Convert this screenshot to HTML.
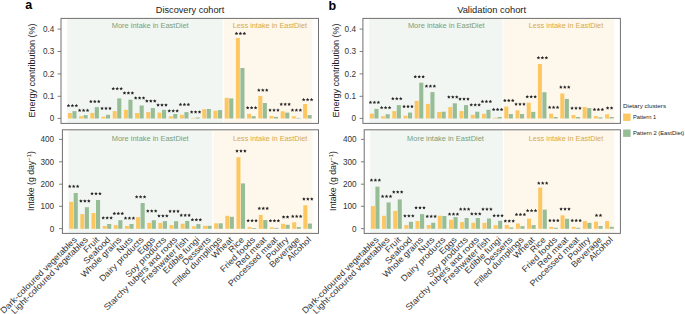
<!DOCTYPE html>
<html><head><meta charset="utf-8">
<style>
html,body{margin:0;padding:0;background:#fff;}
body{width:685px;height:314px;overflow:hidden;}
svg{display:block;}
text{font-family:"Liberation Sans", sans-serif;}
.rg{font-size:7.9px;}
.st{font-size:8.6px;text-anchor:middle;fill:#1e1e1e;dominant-baseline:central;}
.tk{font-size:8.2px;text-anchor:end;fill:#333;}
.xl{font-size:8.6px;text-anchor:end;fill:#333;}
.ttl{font-size:9.6px;text-anchor:middle;fill:#222;}
.yl{font-size:8.6px;text-anchor:middle;fill:#222;}
.pl{font-size:12.5px;font-weight:bold;fill:#000;}
.lg{font-size:6.2px;fill:#222;}
</style></head>
<body>
<svg width="685" height="314" viewBox="0 0 685 314">
<rect width="685" height="314" fill="#fff"/>
<text x="25.2" y="9.4" class="pl">a</text>
<text x="328.6" y="9.6" class="pl">b</text>
<text x="190" y="13" class="ttl" textLength="68.4" lengthAdjust="spacingAndGlyphs">Discovery cohort</text>
<text x="491.6" y="13" class="ttl" textLength="68.9" lengthAdjust="spacingAndGlyphs">Validation cohort</text>
<text class="yl" transform="translate(35,70.6) rotate(-90)" textLength="94" lengthAdjust="spacingAndGlyphs">Energy contribution (%)</text>
<text class="yl" transform="translate(338.9,70.6) rotate(-90)" textLength="94" lengthAdjust="spacingAndGlyphs">Energy contribution (%)</text>
<text class="yl" font-size="9.1px" transform="translate(34.1,181) rotate(-90)" textLength="60" lengthAdjust="spacingAndGlyphs">Intake (g day<tspan dy="-3.6" font-size="6px">−1</tspan><tspan dy="3.6">)</tspan></text>
<text class="yl" font-size="9.1px" transform="translate(336.4,181) rotate(-90)" textLength="60" lengthAdjust="spacingAndGlyphs">Intake (g day<tspan dy="-3.6" font-size="6px">−1</tspan><tspan dy="3.6">)</tspan></text>
<rect x="67.17" y="18.4" width="156.13" height="105" fill="#f2f6f2"/>
<rect x="223.3" y="18.4" width="89.04" height="105" fill="#fef7ec"/>
<rect x="222.8" y="18.4" width="1" height="105" fill="#fff"/>
<text x="111.8" y="27.8" class="rg" fill="#76a07b" textLength="76.8" lengthAdjust="spacingAndGlyphs">More intake in EastDiet</text>
<text x="232.7" y="27.8" class="rg" fill="#d7aa4b" textLength="74.4" lengthAdjust="spacingAndGlyphs">Less intake in EastDiet</text>
<rect x="67.9" y="113" width="4" height="5.5" fill="#fcc660"/>
<rect x="72.4" y="111.1" width="4.1" height="7.4" fill="#97bd97"/>
<path transform="translate(68.45,105.7)" d="M0.00 -1.85L0.54 -0.74L1.76 -0.57L0.87 0.28L1.09 1.50L0.00 0.92L-1.09 1.50L-0.87 0.28L-1.76 -0.57L-0.54 -0.74Z" fill="#262626"/>
<path transform="translate(72.4,105.7)" d="M0.00 -1.85L0.54 -0.74L1.76 -0.57L0.87 0.28L1.09 1.50L0.00 0.92L-1.09 1.50L-0.87 0.28L-1.76 -0.57L-0.54 -0.74Z" fill="#262626"/>
<path transform="translate(76.35,105.7)" d="M0.00 -1.85L0.54 -0.74L1.76 -0.57L0.87 0.28L1.09 1.50L0.00 0.92L-1.09 1.50L-0.87 0.28L-1.76 -0.57L-0.54 -0.74Z" fill="#262626"/>
<rect x="79.1" y="116.2" width="4" height="2.3" fill="#fcc660"/>
<rect x="83.6" y="115.1" width="4.1" height="3.4" fill="#97bd97"/>
<path transform="translate(79.65,110.4)" d="M0.00 -1.85L0.54 -0.74L1.76 -0.57L0.87 0.28L1.09 1.50L0.00 0.92L-1.09 1.50L-0.87 0.28L-1.76 -0.57L-0.54 -0.74Z" fill="#262626"/>
<path transform="translate(83.6,110.4)" d="M0.00 -1.85L0.54 -0.74L1.76 -0.57L0.87 0.28L1.09 1.50L0.00 0.92L-1.09 1.50L-0.87 0.28L-1.76 -0.57L-0.54 -0.74Z" fill="#262626"/>
<path transform="translate(87.55,110.4)" d="M0.00 -1.85L0.54 -0.74L1.76 -0.57L0.87 0.28L1.09 1.50L0.00 0.92L-1.09 1.50L-0.87 0.28L-1.76 -0.57L-0.54 -0.74Z" fill="#262626"/>
<rect x="90.3" y="112.9" width="4" height="5.6" fill="#fcc660"/>
<rect x="94.8" y="107.1" width="4.1" height="11.4" fill="#97bd97"/>
<path transform="translate(90.85,101.5)" d="M0.00 -1.85L0.54 -0.74L1.76 -0.57L0.87 0.28L1.09 1.50L0.00 0.92L-1.09 1.50L-0.87 0.28L-1.76 -0.57L-0.54 -0.74Z" fill="#262626"/>
<path transform="translate(94.8,101.5)" d="M0.00 -1.85L0.54 -0.74L1.76 -0.57L0.87 0.28L1.09 1.50L0.00 0.92L-1.09 1.50L-0.87 0.28L-1.76 -0.57L-0.54 -0.74Z" fill="#262626"/>
<path transform="translate(98.75,101.5)" d="M0.00 -1.85L0.54 -0.74L1.76 -0.57L0.87 0.28L1.09 1.50L0.00 0.92L-1.09 1.50L-0.87 0.28L-1.76 -0.57L-0.54 -0.74Z" fill="#262626"/>
<rect x="101.5" y="116.7" width="4" height="1.8" fill="#fcc660"/>
<rect x="106" y="114.8" width="4.1" height="3.7" fill="#97bd97"/>
<path transform="translate(102.05,108.4)" d="M0.00 -1.85L0.54 -0.74L1.76 -0.57L0.87 0.28L1.09 1.50L0.00 0.92L-1.09 1.50L-0.87 0.28L-1.76 -0.57L-0.54 -0.74Z" fill="#262626"/>
<path transform="translate(106,108.4)" d="M0.00 -1.85L0.54 -0.74L1.76 -0.57L0.87 0.28L1.09 1.50L0.00 0.92L-1.09 1.50L-0.87 0.28L-1.76 -0.57L-0.54 -0.74Z" fill="#262626"/>
<path transform="translate(109.95,108.4)" d="M0.00 -1.85L0.54 -0.74L1.76 -0.57L0.87 0.28L1.09 1.50L0.00 0.92L-1.09 1.50L-0.87 0.28L-1.76 -0.57L-0.54 -0.74Z" fill="#262626"/>
<rect x="112.7" y="111.1" width="4" height="7.4" fill="#fcc660"/>
<rect x="117.2" y="98.4" width="4.1" height="20.1" fill="#97bd97"/>
<path transform="translate(113.25,88.7)" d="M0.00 -1.85L0.54 -0.74L1.76 -0.57L0.87 0.28L1.09 1.50L0.00 0.92L-1.09 1.50L-0.87 0.28L-1.76 -0.57L-0.54 -0.74Z" fill="#262626"/>
<path transform="translate(117.2,88.7)" d="M0.00 -1.85L0.54 -0.74L1.76 -0.57L0.87 0.28L1.09 1.50L0.00 0.92L-1.09 1.50L-0.87 0.28L-1.76 -0.57L-0.54 -0.74Z" fill="#262626"/>
<path transform="translate(121.15,88.7)" d="M0.00 -1.85L0.54 -0.74L1.76 -0.57L0.87 0.28L1.09 1.50L0.00 0.92L-1.09 1.50L-0.87 0.28L-1.76 -0.57L-0.54 -0.74Z" fill="#262626"/>
<rect x="123.9" y="109.8" width="4" height="8.7" fill="#fcc660"/>
<rect x="128.4" y="99.7" width="4.1" height="18.8" fill="#97bd97"/>
<path transform="translate(124.45,93.1)" d="M0.00 -1.85L0.54 -0.74L1.76 -0.57L0.87 0.28L1.09 1.50L0.00 0.92L-1.09 1.50L-0.87 0.28L-1.76 -0.57L-0.54 -0.74Z" fill="#262626"/>
<path transform="translate(128.4,93.1)" d="M0.00 -1.85L0.54 -0.74L1.76 -0.57L0.87 0.28L1.09 1.50L0.00 0.92L-1.09 1.50L-0.87 0.28L-1.76 -0.57L-0.54 -0.74Z" fill="#262626"/>
<path transform="translate(132.35,93.1)" d="M0.00 -1.85L0.54 -0.74L1.76 -0.57L0.87 0.28L1.09 1.50L0.00 0.92L-1.09 1.50L-0.87 0.28L-1.76 -0.57L-0.54 -0.74Z" fill="#262626"/>
<rect x="135.1" y="113" width="4" height="5.5" fill="#fcc660"/>
<rect x="139.6" y="105.5" width="4.1" height="13" fill="#97bd97"/>
<path transform="translate(135.65,98)" d="M0.00 -1.85L0.54 -0.74L1.76 -0.57L0.87 0.28L1.09 1.50L0.00 0.92L-1.09 1.50L-0.87 0.28L-1.76 -0.57L-0.54 -0.74Z" fill="#262626"/>
<path transform="translate(139.6,98)" d="M0.00 -1.85L0.54 -0.74L1.76 -0.57L0.87 0.28L1.09 1.50L0.00 0.92L-1.09 1.50L-0.87 0.28L-1.76 -0.57L-0.54 -0.74Z" fill="#262626"/>
<path transform="translate(143.55,98)" d="M0.00 -1.85L0.54 -0.74L1.76 -0.57L0.87 0.28L1.09 1.50L0.00 0.92L-1.09 1.50L-0.87 0.28L-1.76 -0.57L-0.54 -0.74Z" fill="#262626"/>
<rect x="146.3" y="112" width="4" height="6.5" fill="#fcc660"/>
<rect x="150.8" y="108" width="4.1" height="10.5" fill="#97bd97"/>
<path transform="translate(146.85,101.1)" d="M0.00 -1.85L0.54 -0.74L1.76 -0.57L0.87 0.28L1.09 1.50L0.00 0.92L-1.09 1.50L-0.87 0.28L-1.76 -0.57L-0.54 -0.74Z" fill="#262626"/>
<path transform="translate(150.8,101.1)" d="M0.00 -1.85L0.54 -0.74L1.76 -0.57L0.87 0.28L1.09 1.50L0.00 0.92L-1.09 1.50L-0.87 0.28L-1.76 -0.57L-0.54 -0.74Z" fill="#262626"/>
<path transform="translate(154.75,101.1)" d="M0.00 -1.85L0.54 -0.74L1.76 -0.57L0.87 0.28L1.09 1.50L0.00 0.92L-1.09 1.50L-0.87 0.28L-1.76 -0.57L-0.54 -0.74Z" fill="#262626"/>
<rect x="157.5" y="112.6" width="4" height="5.9" fill="#fcc660"/>
<rect x="162" y="109.8" width="4.1" height="8.7" fill="#97bd97"/>
<path transform="translate(158.05,105.1)" d="M0.00 -1.85L0.54 -0.74L1.76 -0.57L0.87 0.28L1.09 1.50L0.00 0.92L-1.09 1.50L-0.87 0.28L-1.76 -0.57L-0.54 -0.74Z" fill="#262626"/>
<path transform="translate(162,105.1)" d="M0.00 -1.85L0.54 -0.74L1.76 -0.57L0.87 0.28L1.09 1.50L0.00 0.92L-1.09 1.50L-0.87 0.28L-1.76 -0.57L-0.54 -0.74Z" fill="#262626"/>
<path transform="translate(165.95,105.1)" d="M0.00 -1.85L0.54 -0.74L1.76 -0.57L0.87 0.28L1.09 1.50L0.00 0.92L-1.09 1.50L-0.87 0.28L-1.76 -0.57L-0.54 -0.74Z" fill="#262626"/>
<rect x="168.7" y="116.3" width="4" height="2.2" fill="#fcc660"/>
<rect x="173.2" y="114" width="4.1" height="4.5" fill="#97bd97"/>
<path transform="translate(169.25,110.9)" d="M0.00 -1.85L0.54 -0.74L1.76 -0.57L0.87 0.28L1.09 1.50L0.00 0.92L-1.09 1.50L-0.87 0.28L-1.76 -0.57L-0.54 -0.74Z" fill="#262626"/>
<path transform="translate(173.2,110.9)" d="M0.00 -1.85L0.54 -0.74L1.76 -0.57L0.87 0.28L1.09 1.50L0.00 0.92L-1.09 1.50L-0.87 0.28L-1.76 -0.57L-0.54 -0.74Z" fill="#262626"/>
<path transform="translate(177.15,110.9)" d="M0.00 -1.85L0.54 -0.74L1.76 -0.57L0.87 0.28L1.09 1.50L0.00 0.92L-1.09 1.50L-0.87 0.28L-1.76 -0.57L-0.54 -0.74Z" fill="#262626"/>
<rect x="179.9" y="114.8" width="4" height="3.7" fill="#fcc660"/>
<rect x="184.4" y="112.1" width="4.1" height="6.4" fill="#97bd97"/>
<path transform="translate(180.45,104.5)" d="M0.00 -1.85L0.54 -0.74L1.76 -0.57L0.87 0.28L1.09 1.50L0.00 0.92L-1.09 1.50L-0.87 0.28L-1.76 -0.57L-0.54 -0.74Z" fill="#262626"/>
<path transform="translate(184.4,104.5)" d="M0.00 -1.85L0.54 -0.74L1.76 -0.57L0.87 0.28L1.09 1.50L0.00 0.92L-1.09 1.50L-0.87 0.28L-1.76 -0.57L-0.54 -0.74Z" fill="#262626"/>
<path transform="translate(188.35,104.5)" d="M0.00 -1.85L0.54 -0.74L1.76 -0.57L0.87 0.28L1.09 1.50L0.00 0.92L-1.09 1.50L-0.87 0.28L-1.76 -0.57L-0.54 -0.74Z" fill="#262626"/>
<rect x="191.1" y="117.9" width="4" height="0.6" fill="#fcc660"/>
<rect x="195.6" y="117.5" width="4.1" height="1" fill="#97bd97"/>
<path transform="translate(191.65,112)" d="M0.00 -1.85L0.54 -0.74L1.76 -0.57L0.87 0.28L1.09 1.50L0.00 0.92L-1.09 1.50L-0.87 0.28L-1.76 -0.57L-0.54 -0.74Z" fill="#262626"/>
<path transform="translate(195.6,112)" d="M0.00 -1.85L0.54 -0.74L1.76 -0.57L0.87 0.28L1.09 1.50L0.00 0.92L-1.09 1.50L-0.87 0.28L-1.76 -0.57L-0.54 -0.74Z" fill="#262626"/>
<path transform="translate(199.55,112)" d="M0.00 -1.85L0.54 -0.74L1.76 -0.57L0.87 0.28L1.09 1.50L0.00 0.92L-1.09 1.50L-0.87 0.28L-1.76 -0.57L-0.54 -0.74Z" fill="#262626"/>
<rect x="202.3" y="109.2" width="4" height="9.3" fill="#fcc660"/>
<rect x="206.8" y="109" width="4.1" height="9.5" fill="#97bd97"/>
<rect x="213.5" y="110.7" width="4" height="7.8" fill="#fcc660"/>
<rect x="218" y="110.1" width="4.1" height="8.4" fill="#97bd97"/>
<rect x="224.7" y="97.8" width="4" height="20.7" fill="#fcc660"/>
<rect x="229.2" y="98.4" width="4.1" height="20.1" fill="#97bd97"/>
<rect x="235.9" y="38" width="4" height="80.5" fill="#fcc660"/>
<rect x="240.4" y="68" width="4.1" height="50.5" fill="#97bd97"/>
<path transform="translate(236.45,33.6)" d="M0.00 -1.85L0.54 -0.74L1.76 -0.57L0.87 0.28L1.09 1.50L0.00 0.92L-1.09 1.50L-0.87 0.28L-1.76 -0.57L-0.54 -0.74Z" fill="#262626"/>
<path transform="translate(240.4,33.6)" d="M0.00 -1.85L0.54 -0.74L1.76 -0.57L0.87 0.28L1.09 1.50L0.00 0.92L-1.09 1.50L-0.87 0.28L-1.76 -0.57L-0.54 -0.74Z" fill="#262626"/>
<path transform="translate(244.35,33.6)" d="M0.00 -1.85L0.54 -0.74L1.76 -0.57L0.87 0.28L1.09 1.50L0.00 0.92L-1.09 1.50L-0.87 0.28L-1.76 -0.57L-0.54 -0.74Z" fill="#262626"/>
<rect x="247.1" y="113.9" width="4" height="4.6" fill="#fcc660"/>
<rect x="251.6" y="116.1" width="4.1" height="2.4" fill="#97bd97"/>
<path transform="translate(247.65,107.8)" d="M0.00 -1.85L0.54 -0.74L1.76 -0.57L0.87 0.28L1.09 1.50L0.00 0.92L-1.09 1.50L-0.87 0.28L-1.76 -0.57L-0.54 -0.74Z" fill="#262626"/>
<path transform="translate(251.6,107.8)" d="M0.00 -1.85L0.54 -0.74L1.76 -0.57L0.87 0.28L1.09 1.50L0.00 0.92L-1.09 1.50L-0.87 0.28L-1.76 -0.57L-0.54 -0.74Z" fill="#262626"/>
<path transform="translate(255.55,107.8)" d="M0.00 -1.85L0.54 -0.74L1.76 -0.57L0.87 0.28L1.09 1.50L0.00 0.92L-1.09 1.50L-0.87 0.28L-1.76 -0.57L-0.54 -0.74Z" fill="#262626"/>
<rect x="258.3" y="95.9" width="4" height="22.6" fill="#fcc660"/>
<rect x="262.8" y="103" width="4.1" height="15.5" fill="#97bd97"/>
<path transform="translate(258.85,90.2)" d="M0.00 -1.85L0.54 -0.74L1.76 -0.57L0.87 0.28L1.09 1.50L0.00 0.92L-1.09 1.50L-0.87 0.28L-1.76 -0.57L-0.54 -0.74Z" fill="#262626"/>
<path transform="translate(262.8,90.2)" d="M0.00 -1.85L0.54 -0.74L1.76 -0.57L0.87 0.28L1.09 1.50L0.00 0.92L-1.09 1.50L-0.87 0.28L-1.76 -0.57L-0.54 -0.74Z" fill="#262626"/>
<path transform="translate(266.75,90.2)" d="M0.00 -1.85L0.54 -0.74L1.76 -0.57L0.87 0.28L1.09 1.50L0.00 0.92L-1.09 1.50L-0.87 0.28L-1.76 -0.57L-0.54 -0.74Z" fill="#262626"/>
<rect x="269.5" y="116" width="4" height="2.5" fill="#fcc660"/>
<rect x="274" y="116.9" width="4.1" height="1.6" fill="#97bd97"/>
<path transform="translate(270.05,110.2)" d="M0.00 -1.85L0.54 -0.74L1.76 -0.57L0.87 0.28L1.09 1.50L0.00 0.92L-1.09 1.50L-0.87 0.28L-1.76 -0.57L-0.54 -0.74Z" fill="#262626"/>
<path transform="translate(274,110.2)" d="M0.00 -1.85L0.54 -0.74L1.76 -0.57L0.87 0.28L1.09 1.50L0.00 0.92L-1.09 1.50L-0.87 0.28L-1.76 -0.57L-0.54 -0.74Z" fill="#262626"/>
<path transform="translate(277.95,110.2)" d="M0.00 -1.85L0.54 -0.74L1.76 -0.57L0.87 0.28L1.09 1.50L0.00 0.92L-1.09 1.50L-0.87 0.28L-1.76 -0.57L-0.54 -0.74Z" fill="#262626"/>
<rect x="280.7" y="111.3" width="4" height="7.2" fill="#fcc660"/>
<rect x="285.2" y="112.6" width="4.1" height="5.9" fill="#97bd97"/>
<path transform="translate(281.25,104.3)" d="M0.00 -1.85L0.54 -0.74L1.76 -0.57L0.87 0.28L1.09 1.50L0.00 0.92L-1.09 1.50L-0.87 0.28L-1.76 -0.57L-0.54 -0.74Z" fill="#262626"/>
<path transform="translate(285.2,104.3)" d="M0.00 -1.85L0.54 -0.74L1.76 -0.57L0.87 0.28L1.09 1.50L0.00 0.92L-1.09 1.50L-0.87 0.28L-1.76 -0.57L-0.54 -0.74Z" fill="#262626"/>
<path transform="translate(289.15,104.3)" d="M0.00 -1.85L0.54 -0.74L1.76 -0.57L0.87 0.28L1.09 1.50L0.00 0.92L-1.09 1.50L-0.87 0.28L-1.76 -0.57L-0.54 -0.74Z" fill="#262626"/>
<rect x="291.9" y="116.3" width="4" height="2.2" fill="#fcc660"/>
<rect x="296.4" y="117.9" width="4.1" height="0.6" fill="#97bd97"/>
<path transform="translate(292.45,110.2)" d="M0.00 -1.85L0.54 -0.74L1.76 -0.57L0.87 0.28L1.09 1.50L0.00 0.92L-1.09 1.50L-0.87 0.28L-1.76 -0.57L-0.54 -0.74Z" fill="#262626"/>
<path transform="translate(296.4,110.2)" d="M0.00 -1.85L0.54 -0.74L1.76 -0.57L0.87 0.28L1.09 1.50L0.00 0.92L-1.09 1.50L-0.87 0.28L-1.76 -0.57L-0.54 -0.74Z" fill="#262626"/>
<path transform="translate(300.35,110.2)" d="M0.00 -1.85L0.54 -0.74L1.76 -0.57L0.87 0.28L1.09 1.50L0.00 0.92L-1.09 1.50L-0.87 0.28L-1.76 -0.57L-0.54 -0.74Z" fill="#262626"/>
<rect x="303.1" y="104" width="4" height="14.5" fill="#fcc660"/>
<rect x="307.6" y="115.1" width="4.1" height="3.4" fill="#97bd97"/>
<path transform="translate(303.65,99.7)" d="M0.00 -1.85L0.54 -0.74L1.76 -0.57L0.87 0.28L1.09 1.50L0.00 0.92L-1.09 1.50L-0.87 0.28L-1.76 -0.57L-0.54 -0.74Z" fill="#262626"/>
<path transform="translate(307.6,99.7)" d="M0.00 -1.85L0.54 -0.74L1.76 -0.57L0.87 0.28L1.09 1.50L0.00 0.92L-1.09 1.50L-0.87 0.28L-1.76 -0.57L-0.54 -0.74Z" fill="#262626"/>
<path transform="translate(311.55,99.7)" d="M0.00 -1.85L0.54 -0.74L1.76 -0.57L0.87 0.28L1.09 1.50L0.00 0.92L-1.09 1.50L-0.87 0.28L-1.76 -0.57L-0.54 -0.74Z" fill="#262626"/>
<rect x="61" y="18.4" width="257.5" height="105" fill="none" stroke="#707070" stroke-width="1"/>
<line x1="57.7" y1="118.4" x2="61" y2="118.4" stroke="#707070" stroke-width="0.9"/>
<text x="54.3" y="121.3" class="tk">0</text>
<line x1="57.7" y1="96.3" x2="61" y2="96.3" stroke="#707070" stroke-width="0.9"/>
<text x="54.3" y="99.2" class="tk">0.1</text>
<line x1="57.7" y1="73.9" x2="61" y2="73.9" stroke="#707070" stroke-width="0.9"/>
<text x="54.3" y="76.8" class="tk">0.2</text>
<line x1="57.7" y1="51.5" x2="61" y2="51.5" stroke="#707070" stroke-width="0.9"/>
<text x="54.3" y="54.4" class="tk">0.3</text>
<line x1="57.7" y1="29.1" x2="61" y2="29.1" stroke="#707070" stroke-width="0.9"/>
<text x="54.3" y="32" class="tk">0.4</text>
<rect x="68.49" y="129.8" width="144.28" height="103.6" fill="#f2f6f2"/>
<rect x="212.78" y="129.8" width="99.79" height="103.6" fill="#fef7ec"/>
<rect x="212.28" y="129.8" width="1" height="103.6" fill="#fff"/>
<text x="111.8" y="141.3" class="rg" fill="#76a07b" textLength="76.8" lengthAdjust="spacingAndGlyphs">More intake in EastDiet</text>
<text x="232.9" y="141.3" class="rg" fill="#d7aa4b" textLength="74.4" lengthAdjust="spacingAndGlyphs">Less intake in EastDiet</text>
<rect x="69.2" y="201.8" width="4" height="27" fill="#fcc660"/>
<rect x="73.7" y="193" width="4.1" height="35.8" fill="#97bd97"/>
<path transform="translate(69.75,186.4)" d="M0.00 -1.85L0.54 -0.74L1.76 -0.57L0.87 0.28L1.09 1.50L0.00 0.92L-1.09 1.50L-0.87 0.28L-1.76 -0.57L-0.54 -0.74Z" fill="#262626"/>
<path transform="translate(73.7,186.4)" d="M0.00 -1.85L0.54 -0.74L1.76 -0.57L0.87 0.28L1.09 1.50L0.00 0.92L-1.09 1.50L-0.87 0.28L-1.76 -0.57L-0.54 -0.74Z" fill="#262626"/>
<path transform="translate(77.65,186.4)" d="M0.00 -1.85L0.54 -0.74L1.76 -0.57L0.87 0.28L1.09 1.50L0.00 0.92L-1.09 1.50L-0.87 0.28L-1.76 -0.57L-0.54 -0.74Z" fill="#262626"/>
<rect x="80.35" y="214.1" width="4" height="14.7" fill="#fcc660"/>
<rect x="84.85" y="207.2" width="4.1" height="21.6" fill="#97bd97"/>
<path transform="translate(80.9,201.1)" d="M0.00 -1.85L0.54 -0.74L1.76 -0.57L0.87 0.28L1.09 1.50L0.00 0.92L-1.09 1.50L-0.87 0.28L-1.76 -0.57L-0.54 -0.74Z" fill="#262626"/>
<path transform="translate(84.85,201.1)" d="M0.00 -1.85L0.54 -0.74L1.76 -0.57L0.87 0.28L1.09 1.50L0.00 0.92L-1.09 1.50L-0.87 0.28L-1.76 -0.57L-0.54 -0.74Z" fill="#262626"/>
<path transform="translate(88.8,201.1)" d="M0.00 -1.85L0.54 -0.74L1.76 -0.57L0.87 0.28L1.09 1.50L0.00 0.92L-1.09 1.50L-0.87 0.28L-1.76 -0.57L-0.54 -0.74Z" fill="#262626"/>
<rect x="91.5" y="213" width="4" height="15.8" fill="#fcc660"/>
<rect x="96" y="200" width="4.1" height="28.8" fill="#97bd97"/>
<path transform="translate(92.05,193.7)" d="M0.00 -1.85L0.54 -0.74L1.76 -0.57L0.87 0.28L1.09 1.50L0.00 0.92L-1.09 1.50L-0.87 0.28L-1.76 -0.57L-0.54 -0.74Z" fill="#262626"/>
<path transform="translate(96,193.7)" d="M0.00 -1.85L0.54 -0.74L1.76 -0.57L0.87 0.28L1.09 1.50L0.00 0.92L-1.09 1.50L-0.87 0.28L-1.76 -0.57L-0.54 -0.74Z" fill="#262626"/>
<path transform="translate(99.95,193.7)" d="M0.00 -1.85L0.54 -0.74L1.76 -0.57L0.87 0.28L1.09 1.50L0.00 0.92L-1.09 1.50L-0.87 0.28L-1.76 -0.57L-0.54 -0.74Z" fill="#262626"/>
<rect x="102.65" y="226" width="4" height="2.8" fill="#fcc660"/>
<rect x="107.15" y="224" width="4.1" height="4.8" fill="#97bd97"/>
<path transform="translate(103.2,217.9)" d="M0.00 -1.85L0.54 -0.74L1.76 -0.57L0.87 0.28L1.09 1.50L0.00 0.92L-1.09 1.50L-0.87 0.28L-1.76 -0.57L-0.54 -0.74Z" fill="#262626"/>
<path transform="translate(107.15,217.9)" d="M0.00 -1.85L0.54 -0.74L1.76 -0.57L0.87 0.28L1.09 1.50L0.00 0.92L-1.09 1.50L-0.87 0.28L-1.76 -0.57L-0.54 -0.74Z" fill="#262626"/>
<path transform="translate(111.1,217.9)" d="M0.00 -1.85L0.54 -0.74L1.76 -0.57L0.87 0.28L1.09 1.50L0.00 0.92L-1.09 1.50L-0.87 0.28L-1.76 -0.57L-0.54 -0.74Z" fill="#262626"/>
<rect x="113.8" y="225.1" width="4" height="3.7" fill="#fcc660"/>
<rect x="118.3" y="220.2" width="4.1" height="8.6" fill="#97bd97"/>
<path transform="translate(114.35,213.6)" d="M0.00 -1.85L0.54 -0.74L1.76 -0.57L0.87 0.28L1.09 1.50L0.00 0.92L-1.09 1.50L-0.87 0.28L-1.76 -0.57L-0.54 -0.74Z" fill="#262626"/>
<path transform="translate(118.3,213.6)" d="M0.00 -1.85L0.54 -0.74L1.76 -0.57L0.87 0.28L1.09 1.50L0.00 0.92L-1.09 1.50L-0.87 0.28L-1.76 -0.57L-0.54 -0.74Z" fill="#262626"/>
<path transform="translate(122.25,213.6)" d="M0.00 -1.85L0.54 -0.74L1.76 -0.57L0.87 0.28L1.09 1.50L0.00 0.92L-1.09 1.50L-0.87 0.28L-1.76 -0.57L-0.54 -0.74Z" fill="#262626"/>
<rect x="124.95" y="226" width="4" height="2.8" fill="#fcc660"/>
<rect x="129.45" y="224" width="4.1" height="4.8" fill="#97bd97"/>
<path transform="translate(125.5,218.2)" d="M0.00 -1.85L0.54 -0.74L1.76 -0.57L0.87 0.28L1.09 1.50L0.00 0.92L-1.09 1.50L-0.87 0.28L-1.76 -0.57L-0.54 -0.74Z" fill="#262626"/>
<path transform="translate(129.45,218.2)" d="M0.00 -1.85L0.54 -0.74L1.76 -0.57L0.87 0.28L1.09 1.50L0.00 0.92L-1.09 1.50L-0.87 0.28L-1.76 -0.57L-0.54 -0.74Z" fill="#262626"/>
<path transform="translate(133.4,218.2)" d="M0.00 -1.85L0.54 -0.74L1.76 -0.57L0.87 0.28L1.09 1.50L0.00 0.92L-1.09 1.50L-0.87 0.28L-1.76 -0.57L-0.54 -0.74Z" fill="#262626"/>
<rect x="136.1" y="217.1" width="4" height="11.7" fill="#fcc660"/>
<rect x="140.6" y="203" width="4.1" height="25.8" fill="#97bd97"/>
<path transform="translate(136.65,196.9)" d="M0.00 -1.85L0.54 -0.74L1.76 -0.57L0.87 0.28L1.09 1.50L0.00 0.92L-1.09 1.50L-0.87 0.28L-1.76 -0.57L-0.54 -0.74Z" fill="#262626"/>
<path transform="translate(140.6,196.9)" d="M0.00 -1.85L0.54 -0.74L1.76 -0.57L0.87 0.28L1.09 1.50L0.00 0.92L-1.09 1.50L-0.87 0.28L-1.76 -0.57L-0.54 -0.74Z" fill="#262626"/>
<path transform="translate(144.55,196.9)" d="M0.00 -1.85L0.54 -0.74L1.76 -0.57L0.87 0.28L1.09 1.50L0.00 0.92L-1.09 1.50L-0.87 0.28L-1.76 -0.57L-0.54 -0.74Z" fill="#262626"/>
<rect x="147.25" y="222.9" width="4" height="5.9" fill="#fcc660"/>
<rect x="151.75" y="220.2" width="4.1" height="8.6" fill="#97bd97"/>
<path transform="translate(147.8,211)" d="M0.00 -1.85L0.54 -0.74L1.76 -0.57L0.87 0.28L1.09 1.50L0.00 0.92L-1.09 1.50L-0.87 0.28L-1.76 -0.57L-0.54 -0.74Z" fill="#262626"/>
<path transform="translate(151.75,211)" d="M0.00 -1.85L0.54 -0.74L1.76 -0.57L0.87 0.28L1.09 1.50L0.00 0.92L-1.09 1.50L-0.87 0.28L-1.76 -0.57L-0.54 -0.74Z" fill="#262626"/>
<path transform="translate(155.7,211)" d="M0.00 -1.85L0.54 -0.74L1.76 -0.57L0.87 0.28L1.09 1.50L0.00 0.92L-1.09 1.50L-0.87 0.28L-1.76 -0.57L-0.54 -0.74Z" fill="#262626"/>
<rect x="158.4" y="222.9" width="4" height="5.9" fill="#fcc660"/>
<rect x="162.9" y="221.1" width="4.1" height="7.7" fill="#97bd97"/>
<path transform="translate(158.95,215.9)" d="M0.00 -1.85L0.54 -0.74L1.76 -0.57L0.87 0.28L1.09 1.50L0.00 0.92L-1.09 1.50L-0.87 0.28L-1.76 -0.57L-0.54 -0.74Z" fill="#262626"/>
<path transform="translate(162.9,215.9)" d="M0.00 -1.85L0.54 -0.74L1.76 -0.57L0.87 0.28L1.09 1.50L0.00 0.92L-1.09 1.50L-0.87 0.28L-1.76 -0.57L-0.54 -0.74Z" fill="#262626"/>
<path transform="translate(166.85,215.9)" d="M0.00 -1.85L0.54 -0.74L1.76 -0.57L0.87 0.28L1.09 1.50L0.00 0.92L-1.09 1.50L-0.87 0.28L-1.76 -0.57L-0.54 -0.74Z" fill="#262626"/>
<rect x="169.55" y="225.1" width="4" height="3.7" fill="#fcc660"/>
<rect x="174.05" y="221.2" width="4.1" height="7.6" fill="#97bd97"/>
<path transform="translate(170.1,211.3)" d="M0.00 -1.85L0.54 -0.74L1.76 -0.57L0.87 0.28L1.09 1.50L0.00 0.92L-1.09 1.50L-0.87 0.28L-1.76 -0.57L-0.54 -0.74Z" fill="#262626"/>
<path transform="translate(174.05,211.3)" d="M0.00 -1.85L0.54 -0.74L1.76 -0.57L0.87 0.28L1.09 1.50L0.00 0.92L-1.09 1.50L-0.87 0.28L-1.76 -0.57L-0.54 -0.74Z" fill="#262626"/>
<path transform="translate(178,211.3)" d="M0.00 -1.85L0.54 -0.74L1.76 -0.57L0.87 0.28L1.09 1.50L0.00 0.92L-1.09 1.50L-0.87 0.28L-1.76 -0.57L-0.54 -0.74Z" fill="#262626"/>
<rect x="180.7" y="223.7" width="4" height="5.1" fill="#fcc660"/>
<rect x="185.2" y="220.9" width="4.1" height="7.9" fill="#97bd97"/>
<path transform="translate(181.25,215.3)" d="M0.00 -1.85L0.54 -0.74L1.76 -0.57L0.87 0.28L1.09 1.50L0.00 0.92L-1.09 1.50L-0.87 0.28L-1.76 -0.57L-0.54 -0.74Z" fill="#262626"/>
<path transform="translate(185.2,215.3)" d="M0.00 -1.85L0.54 -0.74L1.76 -0.57L0.87 0.28L1.09 1.50L0.00 0.92L-1.09 1.50L-0.87 0.28L-1.76 -0.57L-0.54 -0.74Z" fill="#262626"/>
<path transform="translate(189.15,215.3)" d="M0.00 -1.85L0.54 -0.74L1.76 -0.57L0.87 0.28L1.09 1.50L0.00 0.92L-1.09 1.50L-0.87 0.28L-1.76 -0.57L-0.54 -0.74Z" fill="#262626"/>
<rect x="191.85" y="226.3" width="4" height="2.5" fill="#fcc660"/>
<rect x="196.35" y="224.1" width="4.1" height="4.7" fill="#97bd97"/>
<path transform="translate(192.4,219.8)" d="M0.00 -1.85L0.54 -0.74L1.76 -0.57L0.87 0.28L1.09 1.50L0.00 0.92L-1.09 1.50L-0.87 0.28L-1.76 -0.57L-0.54 -0.74Z" fill="#262626"/>
<path transform="translate(196.35,219.8)" d="M0.00 -1.85L0.54 -0.74L1.76 -0.57L0.87 0.28L1.09 1.50L0.00 0.92L-1.09 1.50L-0.87 0.28L-1.76 -0.57L-0.54 -0.74Z" fill="#262626"/>
<path transform="translate(200.3,219.8)" d="M0.00 -1.85L0.54 -0.74L1.76 -0.57L0.87 0.28L1.09 1.50L0.00 0.92L-1.09 1.50L-0.87 0.28L-1.76 -0.57L-0.54 -0.74Z" fill="#262626"/>
<rect x="203" y="225.8" width="4" height="3" fill="#fcc660"/>
<rect x="207.5" y="225.8" width="4.1" height="3" fill="#97bd97"/>
<rect x="214.15" y="223.3" width="4" height="5.5" fill="#fcc660"/>
<rect x="218.65" y="223.3" width="4.1" height="5.5" fill="#97bd97"/>
<rect x="225.3" y="215.8" width="4" height="13" fill="#fcc660"/>
<rect x="229.8" y="216.8" width="4.1" height="12" fill="#97bd97"/>
<rect x="236.45" y="157.2" width="4" height="71.6" fill="#fcc660"/>
<rect x="240.95" y="183.4" width="4.1" height="45.4" fill="#97bd97"/>
<path transform="translate(237,151)" d="M0.00 -1.85L0.54 -0.74L1.76 -0.57L0.87 0.28L1.09 1.50L0.00 0.92L-1.09 1.50L-0.87 0.28L-1.76 -0.57L-0.54 -0.74Z" fill="#262626"/>
<path transform="translate(240.95,151)" d="M0.00 -1.85L0.54 -0.74L1.76 -0.57L0.87 0.28L1.09 1.50L0.00 0.92L-1.09 1.50L-0.87 0.28L-1.76 -0.57L-0.54 -0.74Z" fill="#262626"/>
<path transform="translate(244.9,151)" d="M0.00 -1.85L0.54 -0.74L1.76 -0.57L0.87 0.28L1.09 1.50L0.00 0.92L-1.09 1.50L-0.87 0.28L-1.76 -0.57L-0.54 -0.74Z" fill="#262626"/>
<rect x="247.6" y="227.1" width="4" height="1.7" fill="#fcc660"/>
<rect x="252.1" y="228" width="4.1" height="0.8" fill="#97bd97"/>
<path transform="translate(248.15,220.7)" d="M0.00 -1.85L0.54 -0.74L1.76 -0.57L0.87 0.28L1.09 1.50L0.00 0.92L-1.09 1.50L-0.87 0.28L-1.76 -0.57L-0.54 -0.74Z" fill="#262626"/>
<path transform="translate(252.1,220.7)" d="M0.00 -1.85L0.54 -0.74L1.76 -0.57L0.87 0.28L1.09 1.50L0.00 0.92L-1.09 1.50L-0.87 0.28L-1.76 -0.57L-0.54 -0.74Z" fill="#262626"/>
<path transform="translate(256.05,220.7)" d="M0.00 -1.85L0.54 -0.74L1.76 -0.57L0.87 0.28L1.09 1.50L0.00 0.92L-1.09 1.50L-0.87 0.28L-1.76 -0.57L-0.54 -0.74Z" fill="#262626"/>
<rect x="258.75" y="215" width="4" height="13.8" fill="#fcc660"/>
<rect x="263.25" y="220" width="4.1" height="8.8" fill="#97bd97"/>
<path transform="translate(259.3,208.4)" d="M0.00 -1.85L0.54 -0.74L1.76 -0.57L0.87 0.28L1.09 1.50L0.00 0.92L-1.09 1.50L-0.87 0.28L-1.76 -0.57L-0.54 -0.74Z" fill="#262626"/>
<path transform="translate(263.25,208.4)" d="M0.00 -1.85L0.54 -0.74L1.76 -0.57L0.87 0.28L1.09 1.50L0.00 0.92L-1.09 1.50L-0.87 0.28L-1.76 -0.57L-0.54 -0.74Z" fill="#262626"/>
<path transform="translate(267.2,208.4)" d="M0.00 -1.85L0.54 -0.74L1.76 -0.57L0.87 0.28L1.09 1.50L0.00 0.92L-1.09 1.50L-0.87 0.28L-1.76 -0.57L-0.54 -0.74Z" fill="#262626"/>
<rect x="269.9" y="227.3" width="4" height="1.5" fill="#fcc660"/>
<rect x="274.4" y="227.9" width="4.1" height="0.9" fill="#97bd97"/>
<path transform="translate(270.45,220.8)" d="M0.00 -1.85L0.54 -0.74L1.76 -0.57L0.87 0.28L1.09 1.50L0.00 0.92L-1.09 1.50L-0.87 0.28L-1.76 -0.57L-0.54 -0.74Z" fill="#262626"/>
<path transform="translate(274.4,220.8)" d="M0.00 -1.85L0.54 -0.74L1.76 -0.57L0.87 0.28L1.09 1.50L0.00 0.92L-1.09 1.50L-0.87 0.28L-1.76 -0.57L-0.54 -0.74Z" fill="#262626"/>
<path transform="translate(278.35,220.8)" d="M0.00 -1.85L0.54 -0.74L1.76 -0.57L0.87 0.28L1.09 1.50L0.00 0.92L-1.09 1.50L-0.87 0.28L-1.76 -0.57L-0.54 -0.74Z" fill="#262626"/>
<rect x="281.05" y="223.8" width="4" height="5" fill="#fcc660"/>
<rect x="285.55" y="224.8" width="4.1" height="4" fill="#97bd97"/>
<path transform="translate(283.57,217.1)" d="M0.00 -1.85L0.54 -0.74L1.76 -0.57L0.87 0.28L1.09 1.50L0.00 0.92L-1.09 1.50L-0.87 0.28L-1.76 -0.57L-0.54 -0.74Z" fill="#262626"/>
<path transform="translate(287.53,217.1)" d="M0.00 -1.85L0.54 -0.74L1.76 -0.57L0.87 0.28L1.09 1.50L0.00 0.92L-1.09 1.50L-0.87 0.28L-1.76 -0.57L-0.54 -0.74Z" fill="#262626"/>
<rect x="292.2" y="222.3" width="4" height="6.5" fill="#fcc660"/>
<rect x="296.7" y="227" width="4.1" height="1.8" fill="#97bd97"/>
<path transform="translate(292.75,216.4)" d="M0.00 -1.85L0.54 -0.74L1.76 -0.57L0.87 0.28L1.09 1.50L0.00 0.92L-1.09 1.50L-0.87 0.28L-1.76 -0.57L-0.54 -0.74Z" fill="#262626"/>
<path transform="translate(296.7,216.4)" d="M0.00 -1.85L0.54 -0.74L1.76 -0.57L0.87 0.28L1.09 1.50L0.00 0.92L-1.09 1.50L-0.87 0.28L-1.76 -0.57L-0.54 -0.74Z" fill="#262626"/>
<path transform="translate(300.65,216.4)" d="M0.00 -1.85L0.54 -0.74L1.76 -0.57L0.87 0.28L1.09 1.50L0.00 0.92L-1.09 1.50L-0.87 0.28L-1.76 -0.57L-0.54 -0.74Z" fill="#262626"/>
<rect x="303.35" y="205.3" width="4" height="23.5" fill="#fcc660"/>
<rect x="307.85" y="223.6" width="4.1" height="5.2" fill="#97bd97"/>
<path transform="translate(303.9,199)" d="M0.00 -1.85L0.54 -0.74L1.76 -0.57L0.87 0.28L1.09 1.50L0.00 0.92L-1.09 1.50L-0.87 0.28L-1.76 -0.57L-0.54 -0.74Z" fill="#262626"/>
<path transform="translate(307.85,199)" d="M0.00 -1.85L0.54 -0.74L1.76 -0.57L0.87 0.28L1.09 1.50L0.00 0.92L-1.09 1.50L-0.87 0.28L-1.76 -0.57L-0.54 -0.74Z" fill="#262626"/>
<path transform="translate(311.8,199)" d="M0.00 -1.85L0.54 -0.74L1.76 -0.57L0.87 0.28L1.09 1.50L0.00 0.92L-1.09 1.50L-0.87 0.28L-1.76 -0.57L-0.54 -0.74Z" fill="#262626"/>
<rect x="62.4" y="129.8" width="256.1" height="103.6" fill="none" stroke="#707070" stroke-width="1"/>
<line x1="59.1" y1="228.6" x2="62.4" y2="228.6" stroke="#707070" stroke-width="0.9"/>
<text x="54.2" y="231.5" class="tk">0</text>
<line x1="59.1" y1="206.3" x2="62.4" y2="206.3" stroke="#707070" stroke-width="0.9"/>
<text x="54.2" y="209.2" class="tk">100</text>
<line x1="59.1" y1="184.2" x2="62.4" y2="184.2" stroke="#707070" stroke-width="0.9"/>
<text x="54.2" y="187.1" class="tk">200</text>
<line x1="59.1" y1="161.8" x2="62.4" y2="161.8" stroke="#707070" stroke-width="0.9"/>
<text x="54.2" y="164.7" class="tk">300</text>
<line x1="59.1" y1="139.4" x2="62.4" y2="139.4" stroke="#707070" stroke-width="0.9"/>
<text x="54.2" y="142.3" class="tk">400</text>
<text class="xl" transform="translate(75.1,238) rotate(-45) scale(1.065,1)" x="0" y="3.3">Dark-coloured vegetables</text>
<text class="xl" transform="translate(86.25,238) rotate(-45) scale(1.065,1)" x="0" y="3.3">Light-coloured vegetables</text>
<text class="xl" transform="translate(97.4,238) rotate(-45) scale(1.065,1)" x="0" y="3.3">Fruit</text>
<text class="xl" transform="translate(108.55,238) rotate(-45) scale(1.065,1)" x="0" y="3.3">Seafood</text>
<text class="xl" transform="translate(119.7,238) rotate(-45) scale(1.065,1)" x="0" y="3.3">Whole grains</text>
<text class="xl" transform="translate(130.85,238) rotate(-45) scale(1.065,1)" x="0" y="3.3">Nuts</text>
<text class="xl" transform="translate(142,238) rotate(-45) scale(1.065,1)" x="0" y="3.3">Dairy products</text>
<text class="xl" transform="translate(153.15,238) rotate(-45) scale(1.065,1)" x="0" y="3.3">Eggs</text>
<text class="xl" transform="translate(164.3,238) rotate(-45) scale(1.065,1)" x="0" y="3.3">Soy products</text>
<text class="xl" transform="translate(175.45,238) rotate(-45) scale(1.065,1)" x="0" y="3.3">Starchy tubers and roots</text>
<text class="xl" transform="translate(186.6,238) rotate(-45) scale(1.065,1)" x="0" y="3.3">Freshwater fish</text>
<text class="xl" transform="translate(197.75,238) rotate(-45) scale(1.065,1)" x="0" y="3.3">Edible fungi</text>
<text class="xl" transform="translate(208.9,238) rotate(-45) scale(1.065,1)" x="0" y="3.3">Desserts</text>
<text class="xl" transform="translate(220.05,238) rotate(-45) scale(1.065,1)" x="0" y="3.3">Filled dumplings</text>
<text class="xl" transform="translate(231.2,238) rotate(-45) scale(1.065,1)" x="0" y="3.3">Wheat</text>
<text class="xl" transform="translate(242.35,238) rotate(-45) scale(1.065,1)" x="0" y="3.3">Rice</text>
<text class="xl" transform="translate(253.5,238) rotate(-45) scale(1.065,1)" x="0" y="3.3">Fried foods</text>
<text class="xl" transform="translate(264.65,238) rotate(-45) scale(1.065,1)" x="0" y="3.3">Red meat</text>
<text class="xl" transform="translate(275.8,238) rotate(-45) scale(1.065,1)" x="0" y="3.3">Processed meat</text>
<text class="xl" transform="translate(286.95,238) rotate(-45) scale(1.065,1)" x="0" y="3.3">Poultry</text>
<text class="xl" transform="translate(298.1,238) rotate(-45) scale(1.065,1)" x="0" y="3.3">Beverage</text>
<text class="xl" transform="translate(309.25,238) rotate(-45) scale(1.065,1)" x="0" y="3.3">Alcohol</text>
<rect x="369.17" y="18.4" width="133.73" height="105" fill="#f2f6f2"/>
<rect x="502.9" y="18.4" width="111.44" height="105" fill="#fef7ec"/>
<rect x="502.4" y="18.4" width="1" height="105" fill="#fff"/>
<text x="407.9" y="27.8" class="rg" fill="#76a07b" textLength="76.8" lengthAdjust="spacingAndGlyphs">More intake in EastDiet</text>
<text x="528.8" y="27.8" class="rg" fill="#d7aa4b" textLength="74.4" lengthAdjust="spacingAndGlyphs">Less intake in EastDiet</text>
<rect x="369.9" y="113.6" width="4" height="4.9" fill="#fcc660"/>
<rect x="374.4" y="108.9" width="4.1" height="9.6" fill="#97bd97"/>
<path transform="translate(370.45,102.4)" d="M0.00 -1.85L0.54 -0.74L1.76 -0.57L0.87 0.28L1.09 1.50L0.00 0.92L-1.09 1.50L-0.87 0.28L-1.76 -0.57L-0.54 -0.74Z" fill="#262626"/>
<path transform="translate(374.4,102.4)" d="M0.00 -1.85L0.54 -0.74L1.76 -0.57L0.87 0.28L1.09 1.50L0.00 0.92L-1.09 1.50L-0.87 0.28L-1.76 -0.57L-0.54 -0.74Z" fill="#262626"/>
<path transform="translate(378.35,102.4)" d="M0.00 -1.85L0.54 -0.74L1.76 -0.57L0.87 0.28L1.09 1.50L0.00 0.92L-1.09 1.50L-0.87 0.28L-1.76 -0.57L-0.54 -0.74Z" fill="#262626"/>
<rect x="381.1" y="116.3" width="4" height="2.2" fill="#fcc660"/>
<rect x="385.6" y="114.2" width="4.1" height="4.3" fill="#97bd97"/>
<path transform="translate(381.65,107.7)" d="M0.00 -1.85L0.54 -0.74L1.76 -0.57L0.87 0.28L1.09 1.50L0.00 0.92L-1.09 1.50L-0.87 0.28L-1.76 -0.57L-0.54 -0.74Z" fill="#262626"/>
<path transform="translate(385.6,107.7)" d="M0.00 -1.85L0.54 -0.74L1.76 -0.57L0.87 0.28L1.09 1.50L0.00 0.92L-1.09 1.50L-0.87 0.28L-1.76 -0.57L-0.54 -0.74Z" fill="#262626"/>
<path transform="translate(389.55,107.7)" d="M0.00 -1.85L0.54 -0.74L1.76 -0.57L0.87 0.28L1.09 1.50L0.00 0.92L-1.09 1.50L-0.87 0.28L-1.76 -0.57L-0.54 -0.74Z" fill="#262626"/>
<rect x="392.3" y="111.1" width="4" height="7.4" fill="#fcc660"/>
<rect x="396.8" y="105.1" width="4.1" height="13.4" fill="#97bd97"/>
<path transform="translate(392.85,98.7)" d="M0.00 -1.85L0.54 -0.74L1.76 -0.57L0.87 0.28L1.09 1.50L0.00 0.92L-1.09 1.50L-0.87 0.28L-1.76 -0.57L-0.54 -0.74Z" fill="#262626"/>
<path transform="translate(396.8,98.7)" d="M0.00 -1.85L0.54 -0.74L1.76 -0.57L0.87 0.28L1.09 1.50L0.00 0.92L-1.09 1.50L-0.87 0.28L-1.76 -0.57L-0.54 -0.74Z" fill="#262626"/>
<path transform="translate(400.75,98.7)" d="M0.00 -1.85L0.54 -0.74L1.76 -0.57L0.87 0.28L1.09 1.50L0.00 0.92L-1.09 1.50L-0.87 0.28L-1.76 -0.57L-0.54 -0.74Z" fill="#262626"/>
<rect x="403.5" y="115.7" width="4" height="2.8" fill="#fcc660"/>
<rect x="408" y="112.6" width="4.1" height="5.9" fill="#97bd97"/>
<path transform="translate(404.05,106.5)" d="M0.00 -1.85L0.54 -0.74L1.76 -0.57L0.87 0.28L1.09 1.50L0.00 0.92L-1.09 1.50L-0.87 0.28L-1.76 -0.57L-0.54 -0.74Z" fill="#262626"/>
<path transform="translate(408,106.5)" d="M0.00 -1.85L0.54 -0.74L1.76 -0.57L0.87 0.28L1.09 1.50L0.00 0.92L-1.09 1.50L-0.87 0.28L-1.76 -0.57L-0.54 -0.74Z" fill="#262626"/>
<path transform="translate(411.95,106.5)" d="M0.00 -1.85L0.54 -0.74L1.76 -0.57L0.87 0.28L1.09 1.50L0.00 0.92L-1.09 1.50L-0.87 0.28L-1.76 -0.57L-0.54 -0.74Z" fill="#262626"/>
<rect x="414.7" y="100.9" width="4" height="17.6" fill="#fcc660"/>
<rect x="419.2" y="82.7" width="4.1" height="35.8" fill="#97bd97"/>
<path transform="translate(415.25,76.8)" d="M0.00 -1.85L0.54 -0.74L1.76 -0.57L0.87 0.28L1.09 1.50L0.00 0.92L-1.09 1.50L-0.87 0.28L-1.76 -0.57L-0.54 -0.74Z" fill="#262626"/>
<path transform="translate(419.2,76.8)" d="M0.00 -1.85L0.54 -0.74L1.76 -0.57L0.87 0.28L1.09 1.50L0.00 0.92L-1.09 1.50L-0.87 0.28L-1.76 -0.57L-0.54 -0.74Z" fill="#262626"/>
<path transform="translate(423.15,76.8)" d="M0.00 -1.85L0.54 -0.74L1.76 -0.57L0.87 0.28L1.09 1.50L0.00 0.92L-1.09 1.50L-0.87 0.28L-1.76 -0.57L-0.54 -0.74Z" fill="#262626"/>
<rect x="425.9" y="103.9" width="4" height="14.6" fill="#fcc660"/>
<rect x="430.4" y="92.1" width="4.1" height="26.4" fill="#97bd97"/>
<path transform="translate(426.45,86.2)" d="M0.00 -1.85L0.54 -0.74L1.76 -0.57L0.87 0.28L1.09 1.50L0.00 0.92L-1.09 1.50L-0.87 0.28L-1.76 -0.57L-0.54 -0.74Z" fill="#262626"/>
<path transform="translate(430.4,86.2)" d="M0.00 -1.85L0.54 -0.74L1.76 -0.57L0.87 0.28L1.09 1.50L0.00 0.92L-1.09 1.50L-0.87 0.28L-1.76 -0.57L-0.54 -0.74Z" fill="#262626"/>
<path transform="translate(434.35,86.2)" d="M0.00 -1.85L0.54 -0.74L1.76 -0.57L0.87 0.28L1.09 1.50L0.00 0.92L-1.09 1.50L-0.87 0.28L-1.76 -0.57L-0.54 -0.74Z" fill="#262626"/>
<rect x="437.1" y="112" width="4" height="6.5" fill="#fcc660"/>
<rect x="441.6" y="111.7" width="4.1" height="6.8" fill="#97bd97"/>
<rect x="448.3" y="107.1" width="4" height="11.4" fill="#fcc660"/>
<rect x="452.8" y="103.3" width="4.1" height="15.2" fill="#97bd97"/>
<path transform="translate(448.85,97)" d="M0.00 -1.85L0.54 -0.74L1.76 -0.57L0.87 0.28L1.09 1.50L0.00 0.92L-1.09 1.50L-0.87 0.28L-1.76 -0.57L-0.54 -0.74Z" fill="#262626"/>
<path transform="translate(452.8,97)" d="M0.00 -1.85L0.54 -0.74L1.76 -0.57L0.87 0.28L1.09 1.50L0.00 0.92L-1.09 1.50L-0.87 0.28L-1.76 -0.57L-0.54 -0.74Z" fill="#262626"/>
<path transform="translate(456.75,97)" d="M0.00 -1.85L0.54 -0.74L1.76 -0.57L0.87 0.28L1.09 1.50L0.00 0.92L-1.09 1.50L-0.87 0.28L-1.76 -0.57L-0.54 -0.74Z" fill="#262626"/>
<rect x="459.5" y="111.1" width="4" height="7.4" fill="#fcc660"/>
<rect x="464" y="105.1" width="4.1" height="13.4" fill="#97bd97"/>
<path transform="translate(460.05,99)" d="M0.00 -1.85L0.54 -0.74L1.76 -0.57L0.87 0.28L1.09 1.50L0.00 0.92L-1.09 1.50L-0.87 0.28L-1.76 -0.57L-0.54 -0.74Z" fill="#262626"/>
<path transform="translate(464,99)" d="M0.00 -1.85L0.54 -0.74L1.76 -0.57L0.87 0.28L1.09 1.50L0.00 0.92L-1.09 1.50L-0.87 0.28L-1.76 -0.57L-0.54 -0.74Z" fill="#262626"/>
<path transform="translate(467.95,99)" d="M0.00 -1.85L0.54 -0.74L1.76 -0.57L0.87 0.28L1.09 1.50L0.00 0.92L-1.09 1.50L-0.87 0.28L-1.76 -0.57L-0.54 -0.74Z" fill="#262626"/>
<rect x="470.7" y="114.8" width="4" height="3.7" fill="#fcc660"/>
<rect x="475.2" y="111.7" width="4.1" height="6.8" fill="#97bd97"/>
<path transform="translate(471.25,104.9)" d="M0.00 -1.85L0.54 -0.74L1.76 -0.57L0.87 0.28L1.09 1.50L0.00 0.92L-1.09 1.50L-0.87 0.28L-1.76 -0.57L-0.54 -0.74Z" fill="#262626"/>
<path transform="translate(475.2,104.9)" d="M0.00 -1.85L0.54 -0.74L1.76 -0.57L0.87 0.28L1.09 1.50L0.00 0.92L-1.09 1.50L-0.87 0.28L-1.76 -0.57L-0.54 -0.74Z" fill="#262626"/>
<path transform="translate(479.15,104.9)" d="M0.00 -1.85L0.54 -0.74L1.76 -0.57L0.87 0.28L1.09 1.50L0.00 0.92L-1.09 1.50L-0.87 0.28L-1.76 -0.57L-0.54 -0.74Z" fill="#262626"/>
<rect x="481.9" y="113.8" width="4" height="4.7" fill="#fcc660"/>
<rect x="486.4" y="109.8" width="4.1" height="8.7" fill="#97bd97"/>
<path transform="translate(482.45,101.5)" d="M0.00 -1.85L0.54 -0.74L1.76 -0.57L0.87 0.28L1.09 1.50L0.00 0.92L-1.09 1.50L-0.87 0.28L-1.76 -0.57L-0.54 -0.74Z" fill="#262626"/>
<path transform="translate(486.4,101.5)" d="M0.00 -1.85L0.54 -0.74L1.76 -0.57L0.87 0.28L1.09 1.50L0.00 0.92L-1.09 1.50L-0.87 0.28L-1.76 -0.57L-0.54 -0.74Z" fill="#262626"/>
<path transform="translate(490.35,101.5)" d="M0.00 -1.85L0.54 -0.74L1.76 -0.57L0.87 0.28L1.09 1.50L0.00 0.92L-1.09 1.50L-0.87 0.28L-1.76 -0.57L-0.54 -0.74Z" fill="#262626"/>
<rect x="493.1" y="117.7" width="4" height="0.8" fill="#fcc660"/>
<rect x="497.6" y="117" width="4.1" height="1.5" fill="#97bd97"/>
<path transform="translate(493.65,109.6)" d="M0.00 -1.85L0.54 -0.74L1.76 -0.57L0.87 0.28L1.09 1.50L0.00 0.92L-1.09 1.50L-0.87 0.28L-1.76 -0.57L-0.54 -0.74Z" fill="#262626"/>
<path transform="translate(497.6,109.6)" d="M0.00 -1.85L0.54 -0.74L1.76 -0.57L0.87 0.28L1.09 1.50L0.00 0.92L-1.09 1.50L-0.87 0.28L-1.76 -0.57L-0.54 -0.74Z" fill="#262626"/>
<path transform="translate(501.55,109.6)" d="M0.00 -1.85L0.54 -0.74L1.76 -0.57L0.87 0.28L1.09 1.50L0.00 0.92L-1.09 1.50L-0.87 0.28L-1.76 -0.57L-0.54 -0.74Z" fill="#262626"/>
<rect x="504.3" y="106.6" width="4" height="11.9" fill="#fcc660"/>
<rect x="508.8" y="114" width="4.1" height="4.5" fill="#97bd97"/>
<path transform="translate(504.85,100.6)" d="M0.00 -1.85L0.54 -0.74L1.76 -0.57L0.87 0.28L1.09 1.50L0.00 0.92L-1.09 1.50L-0.87 0.28L-1.76 -0.57L-0.54 -0.74Z" fill="#262626"/>
<path transform="translate(508.8,100.6)" d="M0.00 -1.85L0.54 -0.74L1.76 -0.57L0.87 0.28L1.09 1.50L0.00 0.92L-1.09 1.50L-0.87 0.28L-1.76 -0.57L-0.54 -0.74Z" fill="#262626"/>
<path transform="translate(512.75,100.6)" d="M0.00 -1.85L0.54 -0.74L1.76 -0.57L0.87 0.28L1.09 1.50L0.00 0.92L-1.09 1.50L-0.87 0.28L-1.76 -0.57L-0.54 -0.74Z" fill="#262626"/>
<rect x="515.5" y="110.4" width="4" height="8.1" fill="#fcc660"/>
<rect x="520" y="114" width="4.1" height="4.5" fill="#97bd97"/>
<path transform="translate(516.05,104.2)" d="M0.00 -1.85L0.54 -0.74L1.76 -0.57L0.87 0.28L1.09 1.50L0.00 0.92L-1.09 1.50L-0.87 0.28L-1.76 -0.57L-0.54 -0.74Z" fill="#262626"/>
<path transform="translate(520,104.2)" d="M0.00 -1.85L0.54 -0.74L1.76 -0.57L0.87 0.28L1.09 1.50L0.00 0.92L-1.09 1.50L-0.87 0.28L-1.76 -0.57L-0.54 -0.74Z" fill="#262626"/>
<path transform="translate(523.95,104.2)" d="M0.00 -1.85L0.54 -0.74L1.76 -0.57L0.87 0.28L1.09 1.50L0.00 0.92L-1.09 1.50L-0.87 0.28L-1.76 -0.57L-0.54 -0.74Z" fill="#262626"/>
<rect x="526.7" y="102.7" width="4" height="15.8" fill="#fcc660"/>
<rect x="531.2" y="111.9" width="4.1" height="6.6" fill="#97bd97"/>
<path transform="translate(527.25,96.8)" d="M0.00 -1.85L0.54 -0.74L1.76 -0.57L0.87 0.28L1.09 1.50L0.00 0.92L-1.09 1.50L-0.87 0.28L-1.76 -0.57L-0.54 -0.74Z" fill="#262626"/>
<path transform="translate(531.2,96.8)" d="M0.00 -1.85L0.54 -0.74L1.76 -0.57L0.87 0.28L1.09 1.50L0.00 0.92L-1.09 1.50L-0.87 0.28L-1.76 -0.57L-0.54 -0.74Z" fill="#262626"/>
<path transform="translate(535.15,96.8)" d="M0.00 -1.85L0.54 -0.74L1.76 -0.57L0.87 0.28L1.09 1.50L0.00 0.92L-1.09 1.50L-0.87 0.28L-1.76 -0.57L-0.54 -0.74Z" fill="#262626"/>
<rect x="537.9" y="64" width="4" height="54.5" fill="#fcc660"/>
<rect x="542.4" y="92.2" width="4.1" height="26.3" fill="#97bd97"/>
<path transform="translate(538.45,57.8)" d="M0.00 -1.85L0.54 -0.74L1.76 -0.57L0.87 0.28L1.09 1.50L0.00 0.92L-1.09 1.50L-0.87 0.28L-1.76 -0.57L-0.54 -0.74Z" fill="#262626"/>
<path transform="translate(542.4,57.8)" d="M0.00 -1.85L0.54 -0.74L1.76 -0.57L0.87 0.28L1.09 1.50L0.00 0.92L-1.09 1.50L-0.87 0.28L-1.76 -0.57L-0.54 -0.74Z" fill="#262626"/>
<path transform="translate(546.35,57.8)" d="M0.00 -1.85L0.54 -0.74L1.76 -0.57L0.87 0.28L1.09 1.50L0.00 0.92L-1.09 1.50L-0.87 0.28L-1.76 -0.57L-0.54 -0.74Z" fill="#262626"/>
<rect x="549.1" y="113.7" width="4" height="4.8" fill="#fcc660"/>
<rect x="553.6" y="117" width="4.1" height="1.5" fill="#97bd97"/>
<path transform="translate(549.65,107.4)" d="M0.00 -1.85L0.54 -0.74L1.76 -0.57L0.87 0.28L1.09 1.50L0.00 0.92L-1.09 1.50L-0.87 0.28L-1.76 -0.57L-0.54 -0.74Z" fill="#262626"/>
<path transform="translate(553.6,107.4)" d="M0.00 -1.85L0.54 -0.74L1.76 -0.57L0.87 0.28L1.09 1.50L0.00 0.92L-1.09 1.50L-0.87 0.28L-1.76 -0.57L-0.54 -0.74Z" fill="#262626"/>
<path transform="translate(557.55,107.4)" d="M0.00 -1.85L0.54 -0.74L1.76 -0.57L0.87 0.28L1.09 1.50L0.00 0.92L-1.09 1.50L-0.87 0.28L-1.76 -0.57L-0.54 -0.74Z" fill="#262626"/>
<rect x="560.3" y="93.5" width="4" height="25" fill="#fcc660"/>
<rect x="564.8" y="98.9" width="4.1" height="19.6" fill="#97bd97"/>
<path transform="translate(560.85,87.2)" d="M0.00 -1.85L0.54 -0.74L1.76 -0.57L0.87 0.28L1.09 1.50L0.00 0.92L-1.09 1.50L-0.87 0.28L-1.76 -0.57L-0.54 -0.74Z" fill="#262626"/>
<path transform="translate(564.8,87.2)" d="M0.00 -1.85L0.54 -0.74L1.76 -0.57L0.87 0.28L1.09 1.50L0.00 0.92L-1.09 1.50L-0.87 0.28L-1.76 -0.57L-0.54 -0.74Z" fill="#262626"/>
<path transform="translate(568.75,87.2)" d="M0.00 -1.85L0.54 -0.74L1.76 -0.57L0.87 0.28L1.09 1.50L0.00 0.92L-1.09 1.50L-0.87 0.28L-1.76 -0.57L-0.54 -0.74Z" fill="#262626"/>
<rect x="571.5" y="115.1" width="4" height="3.4" fill="#fcc660"/>
<rect x="576" y="117" width="4.1" height="1.5" fill="#97bd97"/>
<path transform="translate(572.05,108.2)" d="M0.00 -1.85L0.54 -0.74L1.76 -0.57L0.87 0.28L1.09 1.50L0.00 0.92L-1.09 1.50L-0.87 0.28L-1.76 -0.57L-0.54 -0.74Z" fill="#262626"/>
<path transform="translate(576,108.2)" d="M0.00 -1.85L0.54 -0.74L1.76 -0.57L0.87 0.28L1.09 1.50L0.00 0.92L-1.09 1.50L-0.87 0.28L-1.76 -0.57L-0.54 -0.74Z" fill="#262626"/>
<path transform="translate(579.95,108.2)" d="M0.00 -1.85L0.54 -0.74L1.76 -0.57L0.87 0.28L1.09 1.50L0.00 0.92L-1.09 1.50L-0.87 0.28L-1.76 -0.57L-0.54 -0.74Z" fill="#262626"/>
<rect x="582.7" y="107.1" width="4" height="11.4" fill="#fcc660"/>
<rect x="587.2" y="108.1" width="4.1" height="10.4" fill="#97bd97"/>
<rect x="593.9" y="116.1" width="4" height="2.4" fill="#fcc660"/>
<rect x="598.4" y="117.3" width="4.1" height="1.2" fill="#97bd97"/>
<path transform="translate(594.45,109.5)" d="M0.00 -1.85L0.54 -0.74L1.76 -0.57L0.87 0.28L1.09 1.50L0.00 0.92L-1.09 1.50L-0.87 0.28L-1.76 -0.57L-0.54 -0.74Z" fill="#262626"/>
<path transform="translate(598.4,109.5)" d="M0.00 -1.85L0.54 -0.74L1.76 -0.57L0.87 0.28L1.09 1.50L0.00 0.92L-1.09 1.50L-0.87 0.28L-1.76 -0.57L-0.54 -0.74Z" fill="#262626"/>
<path transform="translate(602.35,109.5)" d="M0.00 -1.85L0.54 -0.74L1.76 -0.57L0.87 0.28L1.09 1.50L0.00 0.92L-1.09 1.50L-0.87 0.28L-1.76 -0.57L-0.54 -0.74Z" fill="#262626"/>
<rect x="605.1" y="114.3" width="4" height="4.2" fill="#fcc660"/>
<rect x="609.6" y="117" width="4.1" height="1.5" fill="#97bd97"/>
<path transform="translate(607.62,108)" d="M0.00 -1.85L0.54 -0.74L1.76 -0.57L0.87 0.28L1.09 1.50L0.00 0.92L-1.09 1.50L-0.87 0.28L-1.76 -0.57L-0.54 -0.74Z" fill="#262626"/>
<path transform="translate(611.57,108)" d="M0.00 -1.85L0.54 -0.74L1.76 -0.57L0.87 0.28L1.09 1.50L0.00 0.92L-1.09 1.50L-0.87 0.28L-1.76 -0.57L-0.54 -0.74Z" fill="#262626"/>
<rect x="362.9" y="18.4" width="257.5" height="105" fill="none" stroke="#707070" stroke-width="1"/>
<line x1="359.6" y1="118.4" x2="362.9" y2="118.4" stroke="#707070" stroke-width="0.9"/>
<text x="356" y="121.3" class="tk">0</text>
<line x1="359.6" y1="96.3" x2="362.9" y2="96.3" stroke="#707070" stroke-width="0.9"/>
<text x="356" y="99.2" class="tk">0.1</text>
<line x1="359.6" y1="73.9" x2="362.9" y2="73.9" stroke="#707070" stroke-width="0.9"/>
<text x="356" y="76.8" class="tk">0.2</text>
<line x1="359.6" y1="51.5" x2="362.9" y2="51.5" stroke="#707070" stroke-width="0.9"/>
<text x="356" y="54.4" class="tk">0.3</text>
<line x1="359.6" y1="29.1" x2="362.9" y2="29.1" stroke="#707070" stroke-width="0.9"/>
<text x="356" y="32" class="tk">0.4</text>
<rect x="370.19" y="129.8" width="133.19" height="103.6" fill="#f2f6f2"/>
<rect x="503.38" y="129.8" width="110.99" height="103.6" fill="#fef7ec"/>
<rect x="502.88" y="129.8" width="1" height="103.6" fill="#fff"/>
<text x="407.1" y="141.3" class="rg" fill="#76a07b" textLength="76.8" lengthAdjust="spacingAndGlyphs">More intake in EastDiet</text>
<text x="528.8" y="141.3" class="rg" fill="#d7aa4b" textLength="74.4" lengthAdjust="spacingAndGlyphs">Less intake in EastDiet</text>
<rect x="370.9" y="206.1" width="4" height="22.7" fill="#fcc660"/>
<rect x="375.4" y="186.6" width="4.1" height="42.2" fill="#97bd97"/>
<path transform="translate(371.45,180.2)" d="M0.00 -1.85L0.54 -0.74L1.76 -0.57L0.87 0.28L1.09 1.50L0.00 0.92L-1.09 1.50L-0.87 0.28L-1.76 -0.57L-0.54 -0.74Z" fill="#262626"/>
<path transform="translate(375.4,180.2)" d="M0.00 -1.85L0.54 -0.74L1.76 -0.57L0.87 0.28L1.09 1.50L0.00 0.92L-1.09 1.50L-0.87 0.28L-1.76 -0.57L-0.54 -0.74Z" fill="#262626"/>
<path transform="translate(379.35,180.2)" d="M0.00 -1.85L0.54 -0.74L1.76 -0.57L0.87 0.28L1.09 1.50L0.00 0.92L-1.09 1.50L-0.87 0.28L-1.76 -0.57L-0.54 -0.74Z" fill="#262626"/>
<rect x="382.06" y="215.8" width="4" height="13" fill="#fcc660"/>
<rect x="386.56" y="202.4" width="4.1" height="26.4" fill="#97bd97"/>
<path transform="translate(382.61,196.4)" d="M0.00 -1.85L0.54 -0.74L1.76 -0.57L0.87 0.28L1.09 1.50L0.00 0.92L-1.09 1.50L-0.87 0.28L-1.76 -0.57L-0.54 -0.74Z" fill="#262626"/>
<path transform="translate(386.56,196.4)" d="M0.00 -1.85L0.54 -0.74L1.76 -0.57L0.87 0.28L1.09 1.50L0.00 0.92L-1.09 1.50L-0.87 0.28L-1.76 -0.57L-0.54 -0.74Z" fill="#262626"/>
<path transform="translate(390.5,196.4)" d="M0.00 -1.85L0.54 -0.74L1.76 -0.57L0.87 0.28L1.09 1.50L0.00 0.92L-1.09 1.50L-0.87 0.28L-1.76 -0.57L-0.54 -0.74Z" fill="#262626"/>
<rect x="393.21" y="210.9" width="4" height="17.9" fill="#fcc660"/>
<rect x="397.71" y="199.4" width="4.1" height="29.4" fill="#97bd97"/>
<path transform="translate(393.76,192)" d="M0.00 -1.85L0.54 -0.74L1.76 -0.57L0.87 0.28L1.09 1.50L0.00 0.92L-1.09 1.50L-0.87 0.28L-1.76 -0.57L-0.54 -0.74Z" fill="#262626"/>
<path transform="translate(397.71,192)" d="M0.00 -1.85L0.54 -0.74L1.76 -0.57L0.87 0.28L1.09 1.50L0.00 0.92L-1.09 1.50L-0.87 0.28L-1.76 -0.57L-0.54 -0.74Z" fill="#262626"/>
<path transform="translate(401.66,192)" d="M0.00 -1.85L0.54 -0.74L1.76 -0.57L0.87 0.28L1.09 1.50L0.00 0.92L-1.09 1.50L-0.87 0.28L-1.76 -0.57L-0.54 -0.74Z" fill="#262626"/>
<rect x="404.37" y="225" width="4" height="3.8" fill="#fcc660"/>
<rect x="408.87" y="221.8" width="4.1" height="7" fill="#97bd97"/>
<path transform="translate(404.92,215.9)" d="M0.00 -1.85L0.54 -0.74L1.76 -0.57L0.87 0.28L1.09 1.50L0.00 0.92L-1.09 1.50L-0.87 0.28L-1.76 -0.57L-0.54 -0.74Z" fill="#262626"/>
<path transform="translate(408.87,215.9)" d="M0.00 -1.85L0.54 -0.74L1.76 -0.57L0.87 0.28L1.09 1.50L0.00 0.92L-1.09 1.50L-0.87 0.28L-1.76 -0.57L-0.54 -0.74Z" fill="#262626"/>
<path transform="translate(412.81,215.9)" d="M0.00 -1.85L0.54 -0.74L1.76 -0.57L0.87 0.28L1.09 1.50L0.00 0.92L-1.09 1.50L-0.87 0.28L-1.76 -0.57L-0.54 -0.74Z" fill="#262626"/>
<rect x="415.52" y="221" width="4" height="7.8" fill="#fcc660"/>
<rect x="420.02" y="214.1" width="4.1" height="14.7" fill="#97bd97"/>
<path transform="translate(416.07,207.8)" d="M0.00 -1.85L0.54 -0.74L1.76 -0.57L0.87 0.28L1.09 1.50L0.00 0.92L-1.09 1.50L-0.87 0.28L-1.76 -0.57L-0.54 -0.74Z" fill="#262626"/>
<path transform="translate(420.02,207.8)" d="M0.00 -1.85L0.54 -0.74L1.76 -0.57L0.87 0.28L1.09 1.50L0.00 0.92L-1.09 1.50L-0.87 0.28L-1.76 -0.57L-0.54 -0.74Z" fill="#262626"/>
<path transform="translate(423.97,207.8)" d="M0.00 -1.85L0.54 -0.74L1.76 -0.57L0.87 0.28L1.09 1.50L0.00 0.92L-1.09 1.50L-0.87 0.28L-1.76 -0.57L-0.54 -0.74Z" fill="#262626"/>
<rect x="426.68" y="225" width="4" height="3.8" fill="#fcc660"/>
<rect x="431.18" y="222.8" width="4.1" height="6" fill="#97bd97"/>
<path transform="translate(427.23,216.4)" d="M0.00 -1.85L0.54 -0.74L1.76 -0.57L0.87 0.28L1.09 1.50L0.00 0.92L-1.09 1.50L-0.87 0.28L-1.76 -0.57L-0.54 -0.74Z" fill="#262626"/>
<path transform="translate(431.18,216.4)" d="M0.00 -1.85L0.54 -0.74L1.76 -0.57L0.87 0.28L1.09 1.50L0.00 0.92L-1.09 1.50L-0.87 0.28L-1.76 -0.57L-0.54 -0.74Z" fill="#262626"/>
<path transform="translate(435.12,216.4)" d="M0.00 -1.85L0.54 -0.74L1.76 -0.57L0.87 0.28L1.09 1.50L0.00 0.92L-1.09 1.50L-0.87 0.28L-1.76 -0.57L-0.54 -0.74Z" fill="#262626"/>
<rect x="437.83" y="215.7" width="4" height="13.1" fill="#fcc660"/>
<rect x="442.33" y="216" width="4.1" height="12.8" fill="#97bd97"/>
<rect x="448.99" y="219.8" width="4" height="9" fill="#fcc660"/>
<rect x="453.49" y="217.1" width="4.1" height="11.7" fill="#97bd97"/>
<path transform="translate(449.54,214.2)" d="M0.00 -1.85L0.54 -0.74L1.76 -0.57L0.87 0.28L1.09 1.50L0.00 0.92L-1.09 1.50L-0.87 0.28L-1.76 -0.57L-0.54 -0.74Z" fill="#262626"/>
<path transform="translate(453.49,214.2)" d="M0.00 -1.85L0.54 -0.74L1.76 -0.57L0.87 0.28L1.09 1.50L0.00 0.92L-1.09 1.50L-0.87 0.28L-1.76 -0.57L-0.54 -0.74Z" fill="#262626"/>
<path transform="translate(457.44,214.2)" d="M0.00 -1.85L0.54 -0.74L1.76 -0.57L0.87 0.28L1.09 1.50L0.00 0.92L-1.09 1.50L-0.87 0.28L-1.76 -0.57L-0.54 -0.74Z" fill="#262626"/>
<rect x="460.14" y="222.1" width="4" height="6.7" fill="#fcc660"/>
<rect x="464.64" y="218" width="4.1" height="10.8" fill="#97bd97"/>
<path transform="translate(460.69,209.2)" d="M0.00 -1.85L0.54 -0.74L1.76 -0.57L0.87 0.28L1.09 1.50L0.00 0.92L-1.09 1.50L-0.87 0.28L-1.76 -0.57L-0.54 -0.74Z" fill="#262626"/>
<path transform="translate(464.64,209.2)" d="M0.00 -1.85L0.54 -0.74L1.76 -0.57L0.87 0.28L1.09 1.50L0.00 0.92L-1.09 1.50L-0.87 0.28L-1.76 -0.57L-0.54 -0.74Z" fill="#262626"/>
<path transform="translate(468.59,209.2)" d="M0.00 -1.85L0.54 -0.74L1.76 -0.57L0.87 0.28L1.09 1.50L0.00 0.92L-1.09 1.50L-0.87 0.28L-1.76 -0.57L-0.54 -0.74Z" fill="#262626"/>
<rect x="471.3" y="222.8" width="4" height="6" fill="#fcc660"/>
<rect x="475.8" y="218" width="4.1" height="10.8" fill="#97bd97"/>
<path transform="translate(471.85,213.9)" d="M0.00 -1.85L0.54 -0.74L1.76 -0.57L0.87 0.28L1.09 1.50L0.00 0.92L-1.09 1.50L-0.87 0.28L-1.76 -0.57L-0.54 -0.74Z" fill="#262626"/>
<path transform="translate(475.8,213.9)" d="M0.00 -1.85L0.54 -0.74L1.76 -0.57L0.87 0.28L1.09 1.50L0.00 0.92L-1.09 1.50L-0.87 0.28L-1.76 -0.57L-0.54 -0.74Z" fill="#262626"/>
<path transform="translate(479.75,213.9)" d="M0.00 -1.85L0.54 -0.74L1.76 -0.57L0.87 0.28L1.09 1.50L0.00 0.92L-1.09 1.50L-0.87 0.28L-1.76 -0.57L-0.54 -0.74Z" fill="#262626"/>
<rect x="482.45" y="222.8" width="4" height="6" fill="#fcc660"/>
<rect x="486.95" y="218.5" width="4.1" height="10.3" fill="#97bd97"/>
<path transform="translate(483,209.2)" d="M0.00 -1.85L0.54 -0.74L1.76 -0.57L0.87 0.28L1.09 1.50L0.00 0.92L-1.09 1.50L-0.87 0.28L-1.76 -0.57L-0.54 -0.74Z" fill="#262626"/>
<path transform="translate(486.95,209.2)" d="M0.00 -1.85L0.54 -0.74L1.76 -0.57L0.87 0.28L1.09 1.50L0.00 0.92L-1.09 1.50L-0.87 0.28L-1.76 -0.57L-0.54 -0.74Z" fill="#262626"/>
<path transform="translate(490.9,209.2)" d="M0.00 -1.85L0.54 -0.74L1.76 -0.57L0.87 0.28L1.09 1.50L0.00 0.92L-1.09 1.50L-0.87 0.28L-1.76 -0.57L-0.54 -0.74Z" fill="#262626"/>
<rect x="493.61" y="225.2" width="4" height="3.6" fill="#fcc660"/>
<rect x="498.11" y="220.8" width="4.1" height="8" fill="#97bd97"/>
<path transform="translate(494.16,215.7)" d="M0.00 -1.85L0.54 -0.74L1.76 -0.57L0.87 0.28L1.09 1.50L0.00 0.92L-1.09 1.50L-0.87 0.28L-1.76 -0.57L-0.54 -0.74Z" fill="#262626"/>
<path transform="translate(498.11,215.7)" d="M0.00 -1.85L0.54 -0.74L1.76 -0.57L0.87 0.28L1.09 1.50L0.00 0.92L-1.09 1.50L-0.87 0.28L-1.76 -0.57L-0.54 -0.74Z" fill="#262626"/>
<path transform="translate(502.06,215.7)" d="M0.00 -1.85L0.54 -0.74L1.76 -0.57L0.87 0.28L1.09 1.50L0.00 0.92L-1.09 1.50L-0.87 0.28L-1.76 -0.57L-0.54 -0.74Z" fill="#262626"/>
<rect x="504.76" y="224.9" width="4" height="3.9" fill="#fcc660"/>
<rect x="509.26" y="227.4" width="4.1" height="1.4" fill="#97bd97"/>
<path transform="translate(505.31,221)" d="M0.00 -1.85L0.54 -0.74L1.76 -0.57L0.87 0.28L1.09 1.50L0.00 0.92L-1.09 1.50L-0.87 0.28L-1.76 -0.57L-0.54 -0.74Z" fill="#262626"/>
<path transform="translate(509.26,221)" d="M0.00 -1.85L0.54 -0.74L1.76 -0.57L0.87 0.28L1.09 1.50L0.00 0.92L-1.09 1.50L-0.87 0.28L-1.76 -0.57L-0.54 -0.74Z" fill="#262626"/>
<path transform="translate(513.21,221)" d="M0.00 -1.85L0.54 -0.74L1.76 -0.57L0.87 0.28L1.09 1.50L0.00 0.92L-1.09 1.50L-0.87 0.28L-1.76 -0.57L-0.54 -0.74Z" fill="#262626"/>
<rect x="515.91" y="223.5" width="4" height="5.3" fill="#fcc660"/>
<rect x="520.41" y="226.1" width="4.1" height="2.7" fill="#97bd97"/>
<path transform="translate(516.46,214.5)" d="M0.00 -1.85L0.54 -0.74L1.76 -0.57L0.87 0.28L1.09 1.50L0.00 0.92L-1.09 1.50L-0.87 0.28L-1.76 -0.57L-0.54 -0.74Z" fill="#262626"/>
<path transform="translate(520.41,214.5)" d="M0.00 -1.85L0.54 -0.74L1.76 -0.57L0.87 0.28L1.09 1.50L0.00 0.92L-1.09 1.50L-0.87 0.28L-1.76 -0.57L-0.54 -0.74Z" fill="#262626"/>
<path transform="translate(524.37,214.5)" d="M0.00 -1.85L0.54 -0.74L1.76 -0.57L0.87 0.28L1.09 1.50L0.00 0.92L-1.09 1.50L-0.87 0.28L-1.76 -0.57L-0.54 -0.74Z" fill="#262626"/>
<rect x="527.07" y="218.7" width="4" height="10.1" fill="#fcc660"/>
<rect x="531.57" y="225.1" width="4.1" height="3.7" fill="#97bd97"/>
<path transform="translate(527.62,210.7)" d="M0.00 -1.85L0.54 -0.74L1.76 -0.57L0.87 0.28L1.09 1.50L0.00 0.92L-1.09 1.50L-0.87 0.28L-1.76 -0.57L-0.54 -0.74Z" fill="#262626"/>
<path transform="translate(531.57,210.7)" d="M0.00 -1.85L0.54 -0.74L1.76 -0.57L0.87 0.28L1.09 1.50L0.00 0.92L-1.09 1.50L-0.87 0.28L-1.76 -0.57L-0.54 -0.74Z" fill="#262626"/>
<path transform="translate(535.52,210.7)" d="M0.00 -1.85L0.54 -0.74L1.76 -0.57L0.87 0.28L1.09 1.50L0.00 0.92L-1.09 1.50L-0.87 0.28L-1.76 -0.57L-0.54 -0.74Z" fill="#262626"/>
<rect x="538.22" y="187.6" width="4" height="41.2" fill="#fcc660"/>
<rect x="542.72" y="209.6" width="4.1" height="19.2" fill="#97bd97"/>
<path transform="translate(538.77,183.2)" d="M0.00 -1.85L0.54 -0.74L1.76 -0.57L0.87 0.28L1.09 1.50L0.00 0.92L-1.09 1.50L-0.87 0.28L-1.76 -0.57L-0.54 -0.74Z" fill="#262626"/>
<path transform="translate(542.72,183.2)" d="M0.00 -1.85L0.54 -0.74L1.76 -0.57L0.87 0.28L1.09 1.50L0.00 0.92L-1.09 1.50L-0.87 0.28L-1.76 -0.57L-0.54 -0.74Z" fill="#262626"/>
<path transform="translate(546.67,183.2)" d="M0.00 -1.85L0.54 -0.74L1.76 -0.57L0.87 0.28L1.09 1.50L0.00 0.92L-1.09 1.50L-0.87 0.28L-1.76 -0.57L-0.54 -0.74Z" fill="#262626"/>
<rect x="549.38" y="226.9" width="4" height="1.9" fill="#fcc660"/>
<rect x="553.88" y="227.8" width="4.1" height="1" fill="#97bd97"/>
<path transform="translate(549.93,220.5)" d="M0.00 -1.85L0.54 -0.74L1.76 -0.57L0.87 0.28L1.09 1.50L0.00 0.92L-1.09 1.50L-0.87 0.28L-1.76 -0.57L-0.54 -0.74Z" fill="#262626"/>
<path transform="translate(553.88,220.5)" d="M0.00 -1.85L0.54 -0.74L1.76 -0.57L0.87 0.28L1.09 1.50L0.00 0.92L-1.09 1.50L-0.87 0.28L-1.76 -0.57L-0.54 -0.74Z" fill="#262626"/>
<path transform="translate(557.83,220.5)" d="M0.00 -1.85L0.54 -0.74L1.76 -0.57L0.87 0.28L1.09 1.50L0.00 0.92L-1.09 1.50L-0.87 0.28L-1.76 -0.57L-0.54 -0.74Z" fill="#262626"/>
<rect x="560.53" y="215.3" width="4" height="13.5" fill="#fcc660"/>
<rect x="565.03" y="218.8" width="4.1" height="10" fill="#97bd97"/>
<path transform="translate(561.08,209)" d="M0.00 -1.85L0.54 -0.74L1.76 -0.57L0.87 0.28L1.09 1.50L0.00 0.92L-1.09 1.50L-0.87 0.28L-1.76 -0.57L-0.54 -0.74Z" fill="#262626"/>
<path transform="translate(565.03,209)" d="M0.00 -1.85L0.54 -0.74L1.76 -0.57L0.87 0.28L1.09 1.50L0.00 0.92L-1.09 1.50L-0.87 0.28L-1.76 -0.57L-0.54 -0.74Z" fill="#262626"/>
<path transform="translate(568.99,209)" d="M0.00 -1.85L0.54 -0.74L1.76 -0.57L0.87 0.28L1.09 1.50L0.00 0.92L-1.09 1.50L-0.87 0.28L-1.76 -0.57L-0.54 -0.74Z" fill="#262626"/>
<rect x="571.69" y="226.9" width="4" height="1.9" fill="#fcc660"/>
<rect x="576.19" y="227.8" width="4.1" height="1" fill="#97bd97"/>
<path transform="translate(572.24,220.5)" d="M0.00 -1.85L0.54 -0.74L1.76 -0.57L0.87 0.28L1.09 1.50L0.00 0.92L-1.09 1.50L-0.87 0.28L-1.76 -0.57L-0.54 -0.74Z" fill="#262626"/>
<path transform="translate(576.19,220.5)" d="M0.00 -1.85L0.54 -0.74L1.76 -0.57L0.87 0.28L1.09 1.50L0.00 0.92L-1.09 1.50L-0.87 0.28L-1.76 -0.57L-0.54 -0.74Z" fill="#262626"/>
<path transform="translate(580.14,220.5)" d="M0.00 -1.85L0.54 -0.74L1.76 -0.57L0.87 0.28L1.09 1.50L0.00 0.92L-1.09 1.50L-0.87 0.28L-1.76 -0.57L-0.54 -0.74Z" fill="#262626"/>
<rect x="582.85" y="221.1" width="4" height="7.7" fill="#fcc660"/>
<rect x="587.35" y="222.8" width="4.1" height="6" fill="#97bd97"/>
<rect x="594" y="221.7" width="4" height="7.1" fill="#fcc660"/>
<rect x="598.5" y="226" width="4.1" height="2.8" fill="#97bd97"/>
<path transform="translate(596.52,215.4)" d="M0.00 -1.85L0.54 -0.74L1.76 -0.57L0.87 0.28L1.09 1.50L0.00 0.92L-1.09 1.50L-0.87 0.28L-1.76 -0.57L-0.54 -0.74Z" fill="#262626"/>
<path transform="translate(600.48,215.4)" d="M0.00 -1.85L0.54 -0.74L1.76 -0.57L0.87 0.28L1.09 1.50L0.00 0.92L-1.09 1.50L-0.87 0.28L-1.76 -0.57L-0.54 -0.74Z" fill="#262626"/>
<rect x="605.15" y="221.1" width="4" height="7.7" fill="#fcc660"/>
<rect x="609.65" y="226.8" width="4.1" height="2" fill="#97bd97"/>
<rect x="364.2" y="129.8" width="256.2" height="103.6" fill="none" stroke="#707070" stroke-width="1"/>
<line x1="360.9" y1="228.6" x2="364.2" y2="228.6" stroke="#707070" stroke-width="0.9"/>
<text x="356.6" y="231.5" class="tk">0</text>
<line x1="360.9" y1="206.3" x2="364.2" y2="206.3" stroke="#707070" stroke-width="0.9"/>
<text x="356.6" y="209.2" class="tk">100</text>
<line x1="360.9" y1="184.2" x2="364.2" y2="184.2" stroke="#707070" stroke-width="0.9"/>
<text x="356.6" y="187.1" class="tk">200</text>
<line x1="360.9" y1="161.8" x2="364.2" y2="161.8" stroke="#707070" stroke-width="0.9"/>
<text x="356.6" y="164.7" class="tk">300</text>
<line x1="360.9" y1="139.4" x2="364.2" y2="139.4" stroke="#707070" stroke-width="0.9"/>
<text x="356.6" y="142.3" class="tk">400</text>
<text class="xl" transform="translate(376.8,238) rotate(-45) scale(1.065,1)" x="0" y="3.3">Dark-coloured vegetables</text>
<text class="xl" transform="translate(387.95,238) rotate(-45) scale(1.065,1)" x="0" y="3.3">Light-coloured vegetables</text>
<text class="xl" transform="translate(399.11,238) rotate(-45) scale(1.065,1)" x="0" y="3.3">Fruit</text>
<text class="xl" transform="translate(410.26,238) rotate(-45) scale(1.065,1)" x="0" y="3.3">Seafood</text>
<text class="xl" transform="translate(421.42,238) rotate(-45) scale(1.065,1)" x="0" y="3.3">Whole grains</text>
<text class="xl" transform="translate(432.57,238) rotate(-45) scale(1.065,1)" x="0" y="3.3">Nuts</text>
<text class="xl" transform="translate(443.73,238) rotate(-45) scale(1.065,1)" x="0" y="3.3">Dairy products</text>
<text class="xl" transform="translate(454.88,238) rotate(-45) scale(1.065,1)" x="0" y="3.3">Eggs</text>
<text class="xl" transform="translate(466.04,238) rotate(-45) scale(1.065,1)" x="0" y="3.3">Soy products</text>
<text class="xl" transform="translate(477.19,238) rotate(-45) scale(1.065,1)" x="0" y="3.3">Starchy tubers and roots</text>
<text class="xl" transform="translate(488.35,238) rotate(-45) scale(1.065,1)" x="0" y="3.3">Freshwater fish</text>
<text class="xl" transform="translate(499.5,238) rotate(-45) scale(1.065,1)" x="0" y="3.3">Edible fungi</text>
<text class="xl" transform="translate(510.66,238) rotate(-45) scale(1.065,1)" x="0" y="3.3">Desserts</text>
<text class="xl" transform="translate(521.82,238) rotate(-45) scale(1.065,1)" x="0" y="3.3">Filled dumplings</text>
<text class="xl" transform="translate(532.97,238) rotate(-45) scale(1.065,1)" x="0" y="3.3">Wheat</text>
<text class="xl" transform="translate(544.12,238) rotate(-45) scale(1.065,1)" x="0" y="3.3">Rice</text>
<text class="xl" transform="translate(555.28,238) rotate(-45) scale(1.065,1)" x="0" y="3.3">Fried foods</text>
<text class="xl" transform="translate(566.44,238) rotate(-45) scale(1.065,1)" x="0" y="3.3">Red meat</text>
<text class="xl" transform="translate(577.59,238) rotate(-45) scale(1.065,1)" x="0" y="3.3">Processed meat</text>
<text class="xl" transform="translate(588.75,238) rotate(-45) scale(1.065,1)" x="0" y="3.3">Poultry</text>
<text class="xl" transform="translate(599.9,238) rotate(-45) scale(1.065,1)" x="0" y="3.3">Beverage</text>
<text class="xl" transform="translate(611.06,238) rotate(-45) scale(1.065,1)" x="0" y="3.3">Alcohol</text>
<text x="623" y="108.3" class="lg" font-size="5.9px" textLength="43" lengthAdjust="spacingAndGlyphs">Dietary clusters</text>
<rect x="623.1" y="113.6" width="7.5" height="7.3" fill="#fcc660"/>
<text x="632.9" y="119.3" class="lg" font-size="6.5px" textLength="23.3" lengthAdjust="spacingAndGlyphs">Pattern 1</text>
<rect x="623.1" y="129.5" width="7.5" height="7.4" fill="#97bd97"/>
<text x="632.9" y="135.1" class="lg" font-size="6.5px" textLength="51.4" lengthAdjust="spacingAndGlyphs">Pattern 2 (EastDiet)</text>
</svg>
</body></html>
